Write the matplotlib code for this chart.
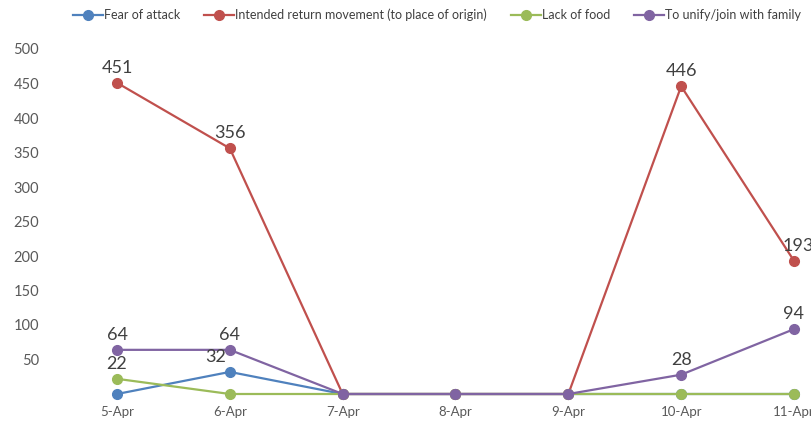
import matplotlib
matplotlib.use("Agg")
import matplotlib.pyplot as plt

plt.rcParams['font.family'] = ['Lato', 'DejaVu Sans']

dates = ["5-Apr", "6-Apr", "7-Apr", "8-Apr", "9-Apr", "10-Apr", "11-Apr"]
fear_of_attack = [0, 32, 0, 0, 0, 0, 0]
intended_return = [451, 356, 0, 0, 0, 446, 193]
lack_of_food = [22, 0, 0, 0, 0, 0, 0]
unify_family = [64, 64, 0, 0, 0, 28, 94]

series = [
    ("Fear of attack", fear_of_attack, "#4F81BD"),
    ("Intended return movement (to place of origin)", intended_return, "#C0504D"),
    ("Lack of food", lack_of_food, "#9BBB59"),
    ("To unify/join with family", unify_family, "#8064A2"),
]

W, H = 812, 426
fig = plt.figure(figsize=(W / 100, H / 100), dpi=100)
ax_left, ax_right = 60, 812
ax_bottom, ax_top = 394, 40
ax = fig.add_axes([ax_left / W, (H - ax_bottom) / H, (ax_right - ax_left) / W, (ax_bottom - ax_top) / H])

x = list(range(len(dates)))
for name, vals, col in series:
    ax.plot(x, vals, color=col, lw=1.6, marker='o', ms=7, label=name, clip_on=False, zorder=3)

px_per_day = (794 - 117) / 6
ax.set_xlim(-(117 - ax_left) / px_per_day, 6 + (ax_right - 794) / px_per_day)
ppu = (394 - 49) / 500
ax.set_ylim(0, (ax_bottom - ax_top) / ppu)
ax.set_yticks([50, 100, 150, 200, 250, 300, 350, 400, 450, 500])
ax.set_xticks(x)
ax.set_xticklabels(dates)
for s in ax.spines.values():
    s.set_visible(False)
ax.tick_params(axis='both', length=0, colors='#595959', labelsize=10.5)
ax.tick_params(axis='x', pad=9, labelsize=9.5)
ax.tick_params(axis='y', pad=15)

lab_col = '#404040'
def label(xi, v, dx=0):
    ax.annotate(str(v), (xi, v), xytext=(dx, 5), textcoords='offset points',
                ha='center', va='bottom', fontsize=13, color=lab_col, annotation_clip=False)

for i, v in enumerate(intended_return):
    if v:
        label(i, v, dx=3 if i == 6 else 0)
for i, v in enumerate(unify_family):
    if v:
        label(i, v)
label(0, lack_of_food[0])
label(1, fear_of_attack[1], dx=-10)

leg = fig.legend(loc='upper left', bbox_to_anchor=(64 / W, 1.0), ncol=4, frameon=False,
                 fontsize=9, labelcolor='#404040', handlelength=2.4, handletextpad=0.1,
                 columnspacing=1.9, borderaxespad=0.3)

fig.savefig("out.png", dpi=100)
